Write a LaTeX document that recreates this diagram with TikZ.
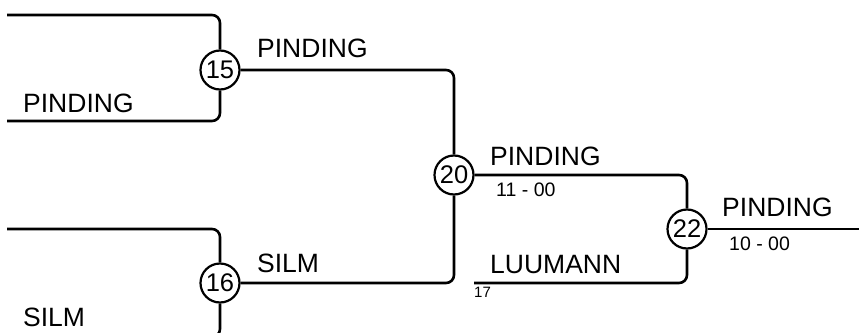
\documentclass[tikz,border=0pt]{standalone}
\usepackage{fontspec}
\setmainfont{Liberation Sans}
\begin{document}
\begin{tikzpicture}[x=1pt,y=-1pt,
  wire/.style={line width=2.6pt,rounded corners=8pt},
  seed/.style={circle,draw,line width=2.2pt,minimum size=39pt,inner sep=0pt,fill=white,font=\fontsize{25.5}{28}\selectfont},
  lab/.style={anchor=base west,inner sep=0pt,font=\fontsize{26.5}{30}\selectfont},
  score/.style={anchor=base west,inner sep=0pt,font=\fontsize{19.5}{22}\selectfont},
  tiny/.style={anchor=base west,inner sep=0pt,font=\fontsize{15}{17}\selectfont}]
\useasboundingbox (0,0) rectangle (859,332);
\clip (0,0) rectangle (859,332);
\node[seed] (n15) at (220,70) {15};
\node[seed] (n16) at (220,283) {16};
\node[seed] (n20) at (454,175) {20};
\node[seed] (n22) at (687,229) {22};
\coordinate (a1) at (7,15);
\coordinate (a2) at (7,121);
\coordinate (b1) at (7,229);
\coordinate (b2) at (7,337);
\coordinate (c17) at (474,283);
\coordinate (fin) at (860,229);
\draw[wire] (a1) -| (n15.north);
\draw[wire] (a2) -| (n15.south);
\draw[wire] (b1) -| (n16.north);
\draw[wire] (b2) -| (n16.south);
\draw[wire] (n15.east) -| (n20.north);
\draw[wire] (n16.east) -| (n20.south);
\draw[wire] (n20.east) -| (n22.north);
\draw[wire] (c17) -| (n22.south);
\draw[wire] (n22.east) -- (fin);
\node[lab] (t1) at (23,112) {PINDING};
\node[lab] (t2) at (257,57) {PINDING};
\node[lab] (t3) at (23,326) {SILM};
\node[lab] (t4) at (257,272) {SILM};
\node[lab] (t5) at (490,165) {PINDING};
\node[score] (t6) at (496,196) {11 - 00};
\node[lab] (t7) at (490,273) {LUUMANN};
\node[tiny] (t8) at (474,297) {17};
\node[lab] (t9) at (722,216) {PINDING};
\node[score] (t10) at (729,250) {10 - 00};
\end{tikzpicture}
\end{document}
